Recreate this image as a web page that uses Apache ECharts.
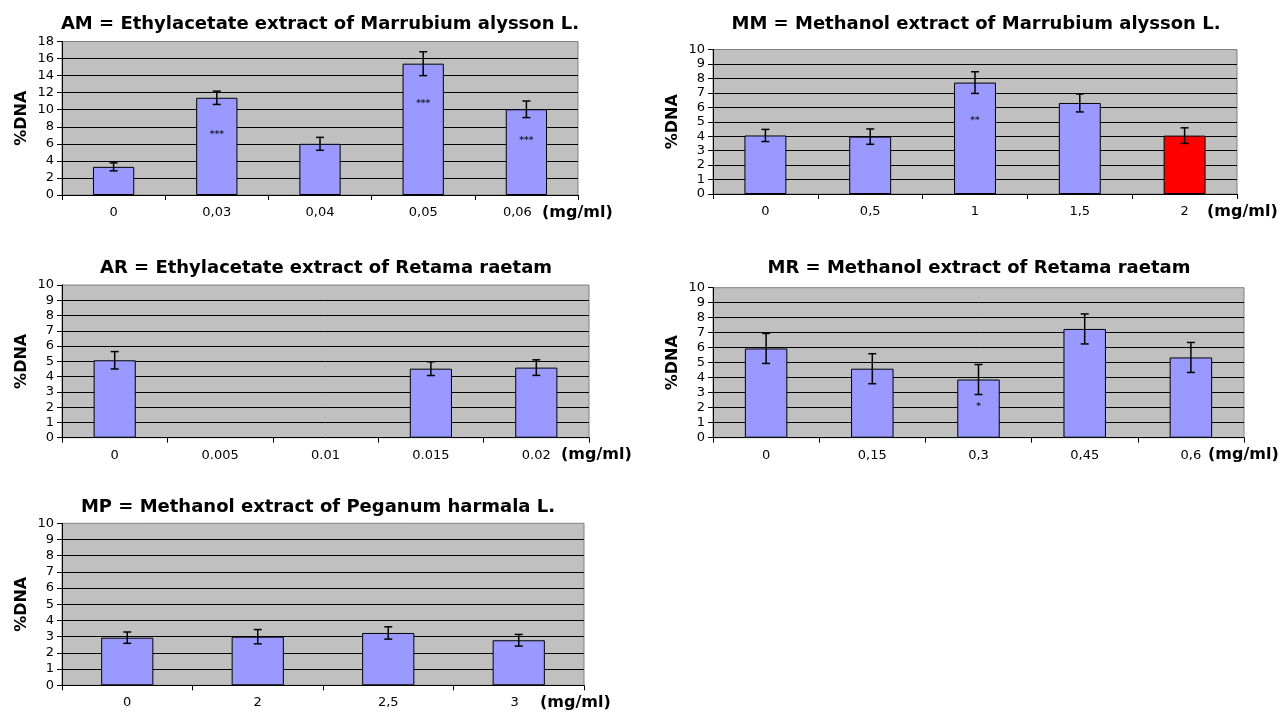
<!DOCTYPE html>
<html>
<head>
<meta charset="utf-8">
<script src="https://cdn.jsdelivr.net/npm/echarts@6/dist/echarts.min.js"></script>
<style>
html,body{margin:0;padding:0;background:#fff;}
#chart{width:1279px;height:715px;}
</style>
</head>
<body>
<div id="chart"></div>
<script>
// ---- Data ----
const amTitle = 'AM = Ethylacetate extract of Marrubium alysson L.';
const amCats = ['0', '0,03', '0,04', '0,05', '0,06'];
const amVals = [3.3, 11.4, 6.0, 15.4, 10.05];
const amErr = [0.47, 0.78, 0.76, 1.4, 0.97];
const amStars = ['', '***', '', '***', '***'];
const amStarY = [null, 7.3, null, 11.0, 6.6];

const mmTitle = 'MM = Methanol extract of Marrubium alysson L.';
const mmCats = ['0', '0,5', '1', '1,5', '2'];
const mmVals = [4.05, 3.97, 7.71, 6.3, 4.04];
const mmErr = [0.42, 0.53, 0.75, 0.62, 0.54];
const mmStars = ['', '', '**', '', ''];
const mmStarY = [null, null, 5.2, null, null];
const mmHighlight = 4;

const arTitle = 'AR = Ethylacetate extract of Retama raetam';
const arCats = ['0', '0.005', '0.01', '0.015', '0.02'];
const arVals = [5.07, null, null, 4.52, 4.59];
const arErr = [0.57, null, null, 0.45, 0.51];

const mrTitle = 'MR = Methanol extract of Retama raetam';
const mrCats = ['0', '0,15', '0,3', '0,45', '0,6'];
const mrVals = [5.95, 4.6, 3.88, 7.25, 5.35];
const mrErr = [1.0, 1.0, 1.0, 1.0, 1.0];
const mrStars = ['', '', '*', '', ''];
const mrStarY = [null, null, 2.2, null, null];

const mpTitle = 'MP = Methanol extract of Peganum harmala L.';
const mpCats = ['0', '2', '2,5', '3'];
const mpVals = [2.94, 3.0, 3.23, 2.78];
const mpErr = [0.35, 0.44, 0.38, 0.36];

const yName = '%DNA';
const xName = '(mg/ml)';

// ---- Layout / style ----
const FONT = 'DejaVu Sans';
const BAR = '#9999FF';
const RED = '#FF0000';

const panels = [
  {title: amTitle, cats: amCats, vals: amVals, err: amErr, stars: amStars, starY: amStarY,
   max: 18, interval: 2, grid: {left: 62, top: 41.5, width: 516, height: 153.5},
   tx: 320, ty: 24, ux: 542, uy: 213, shiftLast: 18},
  {title: mmTitle, cats: mmCats, vals: mmVals, err: mmErr, stars: mmStars, starY: mmStarY, hi: mmHighlight,
   max: 10, interval: 1, grid: {left: 713, top: 49.5, width: 524, height: 144.5},
   tx: 976, ty: 24, ux: 1207, uy: 212},
  {title: arTitle, cats: arCats, vals: arVals, err: arErr,
   max: 10, interval: 1, grid: {left: 62, top: 285, width: 527, height: 152.7},
   tx: 326, ty: 268, ux: 561, uy: 455},
  {title: mrTitle, cats: mrCats, vals: mrVals, err: mrErr, stars: mrStars, starY: mrStarY,
   max: 10, interval: 1, grid: {left: 713, top: 287.7, width: 531, height: 150},
   tx: 979, ty: 268, ux: 1208, uy: 455},
  {title: mpTitle, cats: mpCats, vals: mpVals, err: mpErr,
   max: 10, interval: 1, grid: {left: 62, top: 523.3, width: 522, height: 162},
   tx: 318, ty: 507, ux: 540, uy: 703, shiftLast: 8}
];

function errRender(params, api) {
  const i = api.value(0), v = api.value(1), e = api.value(2);
  const a = api.coord([i, v + e]);
  const b = api.coord([i, v - e]);
  const hw = 4;
  const st = {stroke: '#000', lineWidth: 1.5};
  return {type: 'group', children: [
    {type: 'line', shape: {x1: a[0], y1: a[1], x2: b[0], y2: b[1]}, style: st},
    {type: 'line', shape: {x1: a[0] - hw, y1: a[1], x2: a[0] + hw, y2: a[1]}, style: st},
    {type: 'line', shape: {x1: b[0] - hw, y1: b[1], x2: b[0] + hw, y2: b[1]}, style: st}
  ]};
}

const option = {
  animation: false,
  backgroundColor: '#fff',
  title: [], grid: [], xAxis: [], yAxis: [], series: []
};

panels.forEach((p, k) => {
  option.title.push({
    text: p.title, left: p.tx, top: p.ty, textAlign: 'center', textVerticalAlign: 'middle', padding: 0,
    textStyle: {fontFamily: FONT, fontWeight: 'bold', fontSize: 18, color: '#000'}
  });
  option.title.push({
    text: xName, left: p.ux, top: p.uy, textAlign: 'left', textVerticalAlign: 'middle', padding: 0,
    textStyle: {fontFamily: FONT, fontWeight: 'bold', fontSize: 16, color: '#000'}
  });
  option.grid.push(Object.assign({show: true, backgroundColor: '#C0C0C0', borderColor: '#808080', borderWidth: 1}, p.grid));
  const lastIdx = p.cats.length - 1;
  option.xAxis.push({
    type: 'category', gridIndex: k, data: p.cats, boundaryGap: true,
    axisLine: {show: true, lineStyle: {color: '#000', width: 1}},
    axisTick: {show: true, length: 5, inside: false, lineStyle: {color: '#000'}},
    axisLabel: {fontFamily: FONT, fontSize: 13, color: '#000', margin: 11, interval: 0,
      formatter: (val, idx) => (p.shiftLast && idx === lastIdx) ? '{l|' + val + '}' : val,
      rich: {l: {fontFamily: FONT, fontSize: 13, color: '#000', padding: [0, p.shiftLast || 0, 0, 0]}}},
    splitLine: {show: false}
  });
  option.yAxis.push({
    type: 'value', gridIndex: k, min: 0, max: p.max, interval: p.interval,
    axisLine: {show: true, lineStyle: {color: '#000', width: 1}},
    axisTick: {show: true, length: 5, lineStyle: {color: '#000'}},
    axisLabel: {fontFamily: FONT, fontSize: 13, color: '#000', margin: 8},
    splitLine: {show: true, showMinLine: false, showMaxLine: false, lineStyle: {color: '#000', width: 1}},
    name: yName, nameLocation: 'middle', nameGap: 32, nameRotate: 90,
    nameTextStyle: {fontFamily: FONT, fontWeight: 'bold', fontSize: 16, color: '#000'}
  });
  const barData = p.vals.map((v, i) => (p.hi === i && v != null) ? {value: v, itemStyle: {color: RED}} : v);
  option.series.push({
    type: 'bar', xAxisIndex: k, yAxisIndex: k, data: barData, barWidth: '40%',
    itemStyle: {color: BAR, borderColor: '#000', borderWidth: 1}
  });
  const errData = [];
  p.vals.forEach((v, i) => { if (v != null) errData.push([i, v, p.err[i]]); });
  option.series.push({
    type: 'custom', xAxisIndex: k, yAxisIndex: k, data: errData, renderItem: errRender,
    encode: {x: 0, y: 1}, z: 5
  });
  if (p.stars) {
    const sData = [];
    const sText = [];
    p.stars.forEach((s, i) => { if (s) { sData.push([i, p.starY[i]]); sText.push(s); } });
    option.series.push({
      type: 'scatter', xAxisIndex: k, yAxisIndex: k, data: sData, symbolSize: 1,
      itemStyle: {color: 'rgba(0,0,0,0)'}, z: 6,
      label: {show: true, position: 'inside', formatter: (q) => sText[q.dataIndex],
        fontFamily: FONT, fontWeight: 'bold', fontSize: 9, color: '#000', offset: [0, 2]}
    });
  }
});

const chart = echarts.init(document.getElementById('chart'), null, {renderer: 'canvas'});
chart.setOption(option);
</script>
</body>
</html>
